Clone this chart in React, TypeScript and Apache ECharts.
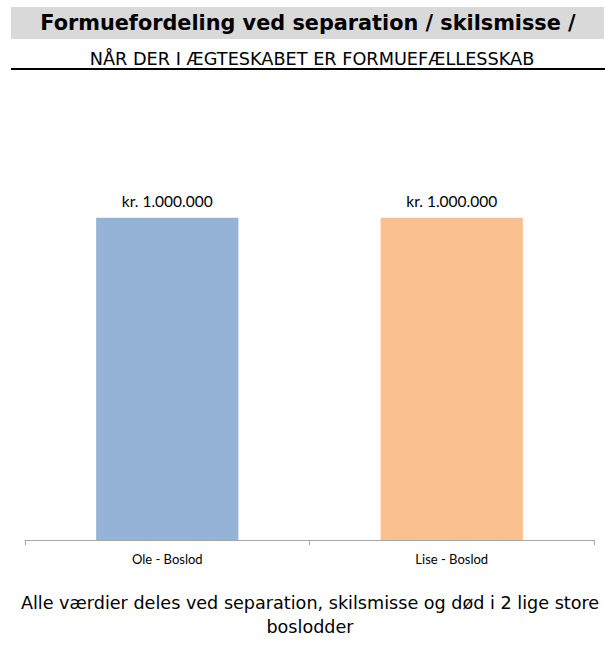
import React, { useEffect, useRef } from "react";
import * as echarts from "echarts";

const categories = ["Ole - Boslod", "Lise - Boslod"];
const values = [1000000, 1000000];
const barColors = ["#95B3D7", "#FAC090"];
const titleText = "Formuefordeling ved separation / skilsmisse /";
const subtitleText = "NÅR DER I ÆGTESKABET ER FORMUEFÆLLESSKAB";
const footerText = "Alle værdier deles ved separation, skilsmisse og død i 2 lige store\nboslodder";

function fmt(v: number) {
  return "kr. " + String(v).replace(/\B(?=(\d{3})+(?!\d))/g, ".");
}

export default function App() {
  const ref = useRef<HTMLDivElement>(null);
  useEffect(() => {
    if (!ref.current) return;
    const chart = echarts.init(ref.current, null, { renderer: "svg" });
    chart.setOption({
      animation: false,
      backgroundColor: "#ffffff",
      graphic: [
        { type: "rect", shape: { x: 11, y: 7, width: 593, height: 32 }, style: { fill: "#D9D9D9" }, z: -1 },
        { type: "rect", shape: { x: 11, y: 68, width: 594, height: 2 }, style: { fill: "#000000" } },
        {
          type: "text", x: 308, y: 23,
          style: { text: titleText, font: "bold 20.8px 'DejaVu Sans'", fill: "#000", align: "center", verticalAlign: "middle" },
        },
        {
          type: "text", x: 312, y: 59,
          style: { text: subtitleText, font: "17.7px 'DejaVu Sans'", fill: "#000", align: "center", verticalAlign: "middle" },
        },
        {
          type: "text", x: 310, y: 615,
          style: { text: footerText, font: "17.6px 'DejaVu Sans'", fill: "#000", align: "center", verticalAlign: "middle", lineHeight: 24 },
        },
      ],
      grid: { left: 25, right: 11, top: 89, bottom: 121, containLabel: false },
      xAxis: {
        type: "category",
        data: categories,
        axisLine: { show: true, lineStyle: { color: "#A6A6A6", width: 1 } },
        axisTick: { show: true, length: 5, lineStyle: { color: "#A6A6A6" } },
        axisLabel: { color: "#000", fontFamily: "Lato", fontSize: 13, margin: 12 },
      },
      yAxis: {
        type: "value",
        min: 0,
        max: 1400000,
        show: false,
        splitLine: { show: false },
      },
      series: [
        {
          type: "bar",
          barWidth: "50%",
          data: values.map((v, i) => ({ value: v, itemStyle: { color: barColors[i] } })),
          label: {
            show: true,
            position: "top",
            distance: 9,
            color: "#000",
            fontFamily: "Lato",
            fontSize: 15.5,
            formatter: (p: any) => fmt(p.value),
          },
        },
      ],
    });
    return () => chart.dispose();
  }, []);
  return <div ref={ref} style={{ position: "fixed", left: 0, top: 0, width: 605, height: 661 }} />;
}
